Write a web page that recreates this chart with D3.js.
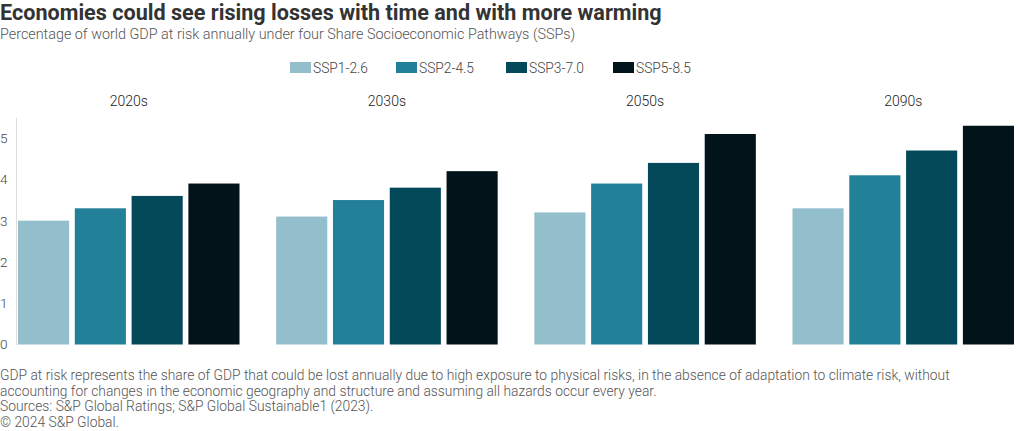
<!DOCTYPE html>
<html><head><meta charset="utf-8">
<script src="https://cdn.jsdelivr.net/npm/d3@7"></script>
<style>
body{margin:0;background:#fff;}
svg{display:block;font-family:Roboto, "Noto Sans", sans-serif;}
</style></head>
<body><svg id="c" width="1020" height="431"></svg>
<script>
const decades = ["2020s","2030s","2050s","2090s"];
const scenarios = ["SSP1-2.6","SSP2-4.5","SSP3-7.0","SSP5-8.5"];
const ssp126 = [3.0, 3.1, 3.2, 3.3];
const ssp245 = [3.3, 3.5, 3.9, 4.1];
const ssp370 = [3.6, 3.8, 4.4, 4.7];
const ssp585 = [3.9, 4.2, 5.1, 5.3];
const yTicks = [0,1,2,3,4,5];
const colors = ["#93bfcc","#238099","#03495a","#02131a"];

const series = [ssp126, ssp245, ssp370, ssp585];
const data = decades.map((d,i)=>({decade:d, values:scenarios.map((s,j)=>({s, v:series[j][i]}))}));

function fit(sel, target){
  const n = sel.node(); const fs = parseFloat(sel.attr("font-size"));
  const w = n.getComputedTextLength();
  if (w>0) sel.attr("font-size", fs*target/w);
  return sel;
}

const svg = d3.select("#c");
fit(svg.append("text").attr("x",0).attr("y",20).attr("font-size",21).attr("font-weight",700)
  .attr("fill","#333").text("Economies could see rising losses with time and with more warming"), 662);
fit(svg.append("text").attr("x",0).attr("y",39).attr("font-size",13.5).attr("font-weight",300)
  .attr("fill","#555").text("Percentage of world GDP at risk annually under four Share Socioeconomic Pathways (SSPs)"), 576);

// legend
const legX = [290,396,506,613];
const leg = svg.append("g");
let legFs = null;
scenarios.forEach((s,i)=>{
  leg.append("rect").attr("x",legX[i]).attr("y",62).attr("width",21).attr("height",11).attr("fill",colors[i]);
  const t = leg.append("text").attr("x",legX[i]+23).attr("y",72.5).attr("font-size",13.5).attr("font-weight",300)
    .attr("fill","#444").text(s);
  if (i===0){ fit(t,55); legFs = t.attr("font-size"); } else t.attr("font-size",legFs);
});

const y = d3.scaleLinear().domain([0,5.5]).range([344.5,117.5]);
const x0 = d3.scaleBand().domain(decades).range([18,1014]).paddingInner(0.142).paddingOuter(0);
const x1 = d3.scaleBand().domain(scenarios).range([0,x0.bandwidth()]).paddingInner(0.1).paddingOuter(0);
const color = d3.scaleOrdinal().domain(scenarios).range(colors);

// y axis
const yAxis = svg.append("g").attr("transform","translate(16,0)")
  .call(d3.axisLeft(y).tickValues(yTicks).tickSize(0).tickPadding(8).tickFormat(d3.format("d")));
yAxis.select(".domain").attr("stroke","#ddd");
yAxis.selectAll("text").attr("font-size",13.5).attr("font-weight",300).attr("fill","#444")
  .attr("font-family","Roboto, sans-serif")
  .attr("text-anchor","start").attr("x",-16);

// facet labels
svg.append("g").selectAll("text").data(decades).join("text")
  .attr("x",d=>x0(d)+x0.bandwidth()/2).attr("y",106).attr("text-anchor","middle")
  .attr("font-size",14).attr("font-weight",300).attr("fill","#222").text(d=>d);

const g = svg.append("g").selectAll("g").data(data).join("g")
  .attr("transform",d=>`translate(${x0(d.decade)},0)`);
g.selectAll("rect").data(d=>d.values).join("rect")
  .attr("x",d=>x1(d.s)).attr("width",x1.bandwidth())
  .attr("y",d=>y(d.v)).attr("height",d=>y(0)-y(d.v)).attr("fill",d=>color(d.s));

const foot = ["GDP at risk represents the share of GDP that could be lost annually due to high exposure to physical risks, in the absence of adaptation to climate risk, without",
"accounting for changes in the economic geography and structure and assuming all hazards occur every year.",
"Sources: S&P Global Ratings; S&P Global Sustainable1 (2023).",
"© 2024 S&P Global."];
const ft = svg.append("g").selectAll("text").data(foot).join("text")
  .attr("x",0).attr("y",(d,i)=>380+i*15.5).attr("font-size",12.5).attr("font-weight",300)
  .attr("fill","#555").text(d=>d);
fit(d3.select(ft.nodes()[0]), 950);
ft.attr("font-size", d3.select(ft.nodes()[0]).attr("font-size"));
</script></body></html>
